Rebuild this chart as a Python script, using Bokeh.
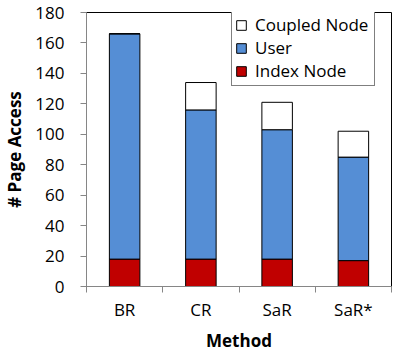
from bokeh.plotting import figure
from bokeh.models import Legend, LegendItem, FixedTicker, ColumnDataSource, Range1d
from bokeh.embed import file_html
from bokeh.resources import INLINE

methods = ["BR", "CR", "SaR", "SaR*"]
index_node = [18, 18, 18, 17]
user = [148, 98, 85, 68]
coupled = [0, 18, 18, 17]
y_ticks = [0, 20, 40, 60, 80, 100, 120, 140, 160, 180]

FONT = "Open Sans"
xs = [i + 0.5 for i in range(len(methods))]
src = ColumnDataSource(dict(x=xs, index_node=index_node, user=user, coupled=coupled))

p = figure(width=392, height=354, output_backend="svg", toolbar_location=None,
           x_range=Range1d(0, len(methods)), y_range=Range1d(0, 180),
           min_border_top=12, min_border_right=1, min_border_left=85, min_border_bottom=67)

rs = p.vbar_stack(["index_node", "user", "coupled"], x="x", width=0.4, source=src,
                  fill_color=["#C00000", "#558ED5", "#FFFFFF"], line_color="black", line_width=1)

p.xgrid.grid_line_color = None
p.ygrid.grid_line_color = None
p.outline_line_color = "black"
p.outline_line_width = 1
p.background_fill_color = "white"
p.border_fill_color = "white"

# x axis
p.xaxis.ticker = FixedTicker(ticks=xs, minor_ticks=list(range(len(methods) + 1)))
p.xaxis.major_label_overrides = {x: m for x, m in zip(xs, methods)}
p.xaxis.major_tick_out = 0
p.xaxis.major_tick_in = 0
p.xaxis.minor_tick_out = 6
p.xaxis.minor_tick_in = 0
p.xaxis.minor_tick_line_color = "#868686"
p.xaxis.axis_label = "Method"
p.xaxis.major_label_standoff = 5
p.xaxis.axis_label_standoff = 5

# y axis
p.yaxis.ticker = FixedTicker(ticks=y_ticks, minor_ticks=[])
p.yaxis.major_tick_out = 6
p.yaxis.major_tick_in = 0
p.yaxis.minor_tick_out = 0
p.yaxis.minor_tick_in = 0
p.yaxis.axis_label = "# Page Access"
p.yaxis.major_label_standoff = 16
p.yaxis.axis_label_standoff = 6

for ax in (p.xaxis[0], p.yaxis[0]):
    ax.axis_line_color = "#868686"
    ax.major_tick_line_color = "#868686"
    ax.major_label_text_font = FONT
    ax.major_label_text_font_size = "17px"
    ax.major_label_text_color = "black"
    ax.axis_label_text_font = FONT
    ax.axis_label_text_font_size = "17px"
    ax.axis_label_text_font_style = "bold"
    ax.axis_label_text_color = "black"

legend = Legend(items=[LegendItem(label="Coupled Node", renderers=[rs[2]]),
                       LegendItem(label="User", renderers=[rs[1]]),
                       LegendItem(label="Index Node", renderers=[rs[0]])],
                location=(145, 200))
legend.border_line_color = "black"
legend.border_line_width = 1
legend.background_fill_color = "white"
legend.background_fill_alpha = 1
legend.label_text_font = FONT
legend.label_text_font_size = "17px"
legend.label_text_color = "black"
legend.glyph_width = 12
legend.glyph_height = 12
legend.label_height = 21
legend.label_width = 116
legend.label_standoff = 8
legend.spacing = 0
legend.padding = 3
legend.margin = 0
p.add_layout(legend)

open("out.html", "w").write(file_html(p, INLINE))
